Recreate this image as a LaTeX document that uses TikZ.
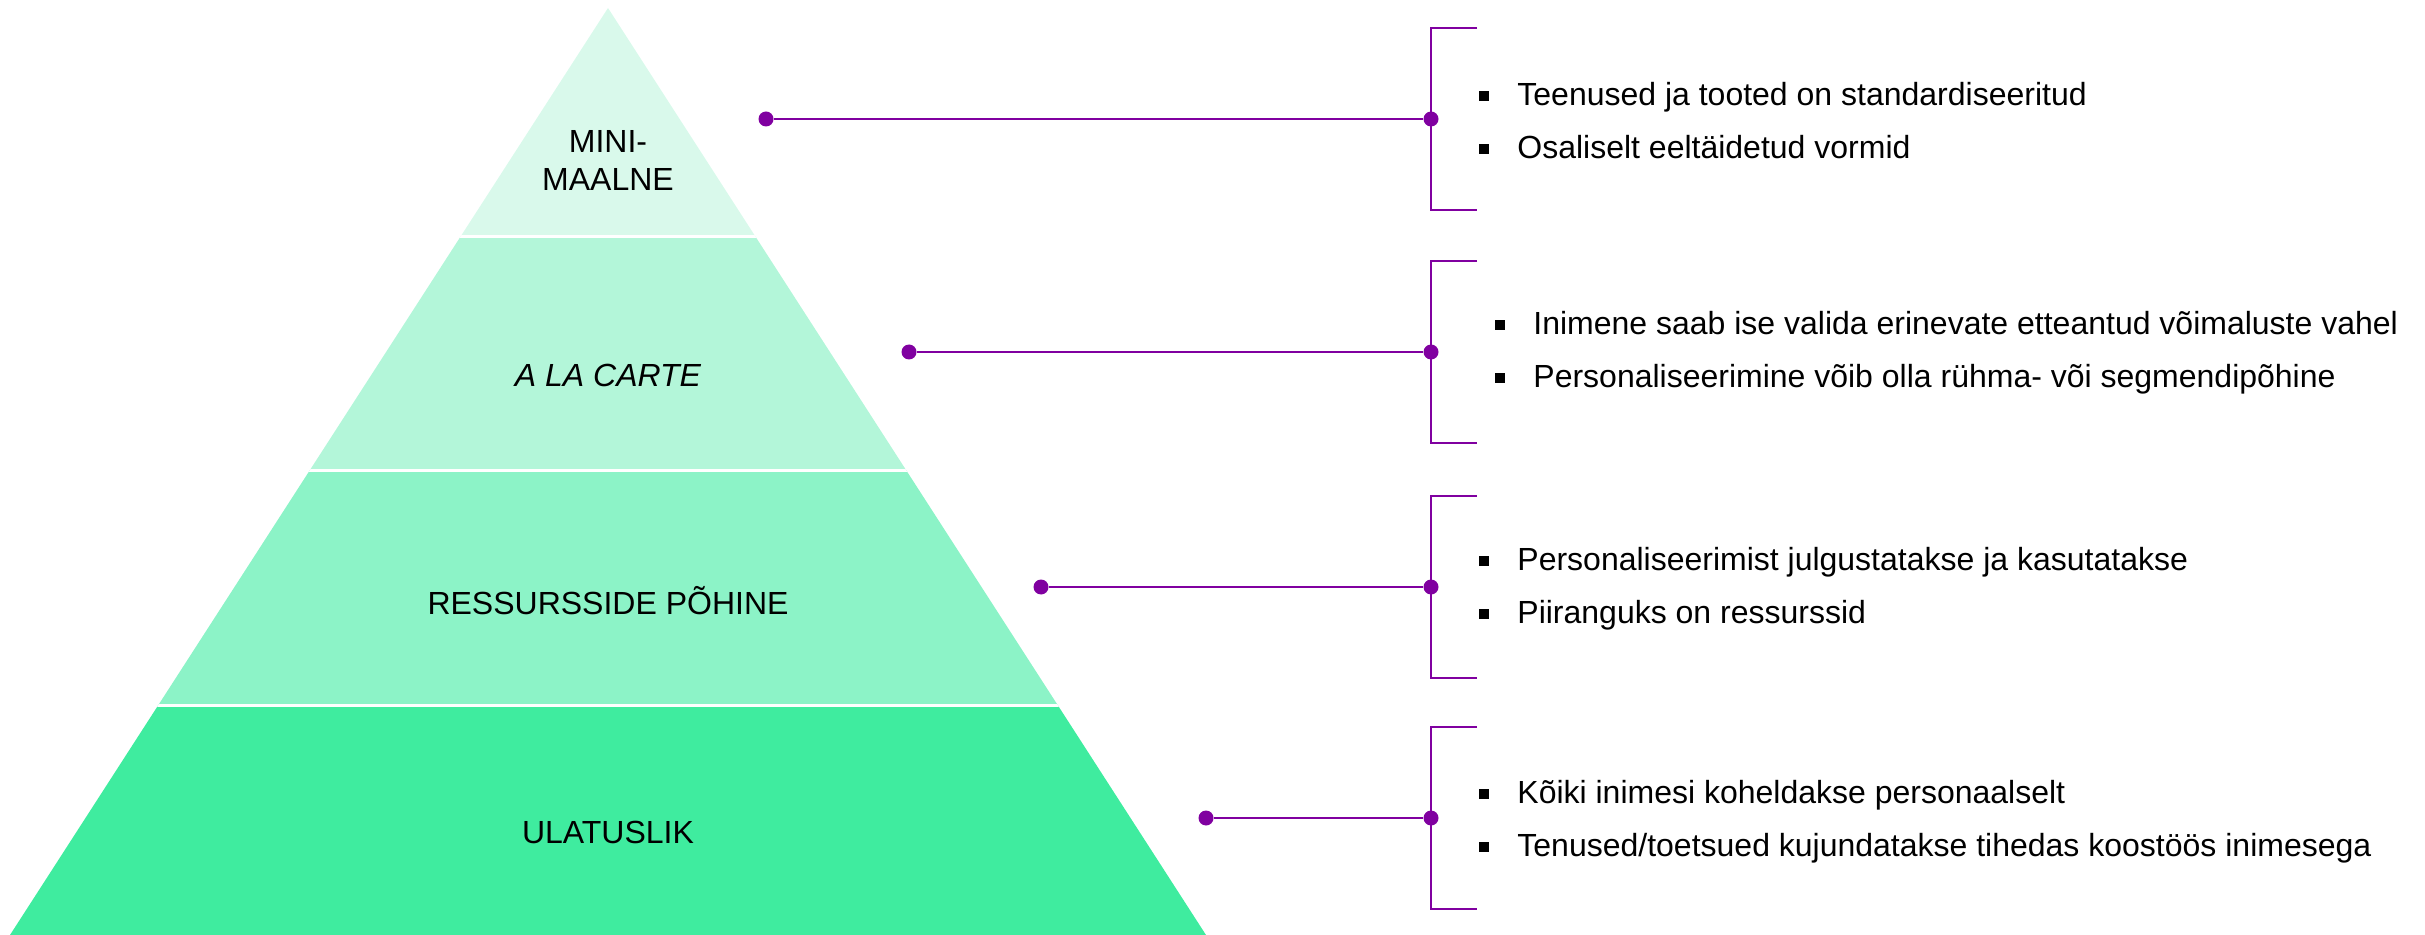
\documentclass[tikz,border=0pt]{standalone}
\usepackage{fontspec}
\setmainfont{Liberation Sans}

\definecolor{bandA}{RGB}{217,249,235}
\definecolor{bandB}{RGB}{179,246,217}
\definecolor{bandC}{RGB}{140,243,199}
\definecolor{bandD}{RGB}{63,236,159}
\definecolor{lilac}{RGB}{128,0,160}
\newcommand{\blt}{\makebox[19pt][l]{\rule[2.5pt]{5pt}{5pt}}}

\begin{document}
\begin{tikzpicture}[x=0.5pt,y=0.5pt,yscale=-1,xscale=1,
  lvl/.style={align=center,inner sep=0.75pt,font=\fontsize{16}{19}\selectfont},
  note/.style={anchor=west,align=left,inner sep=0pt,font=\fontsize{16}{26.5}\selectfont},
  dot/.style={circle,fill=lilac,inner sep=0pt,minimum size=7.5pt},
  link/.style={lilac,line width=1.2pt},
  brk/.style={lilac,line width=1pt}]
        \useasboundingbox (0,0) rectangle (2425,935);

        %Shape: Pyramid [id:pyr]
        \begin{scope}
        \clip (608,8) -- (10,935) -- (1206,935) -- cycle;
        \fill [bandA] (0,0) rectangle (1300,237);
        \fill [bandB] (0,237) rectangle (1300,470);
        \fill [bandC] (0,470) rectangle (1300,705);
        \fill [bandD] (0,705) rectangle (1300,935);
        %Straight Lines [id:gaps]
        \draw [white,line width=1.5pt] (0,237) -- (1300,237) (0,470) -- (1300,470) (0,705) -- (1300,705);
        \end{scope}

        % Text Node
        \node [lvl] (lvlA) at (608,160) {MINI-\\MAALNE};
        % Text Node
        \node [lvl] (lvlB) at (608,375) {\itshape A LA CARTE};
        % Text Node
        \node [lvl] (lvlC) at (608,601) {RESSURSSIDE PÕHINE};
        % Text Node
        \node [lvl] (lvlD) at (608,832) {ULATUSLIK};

        %Shape: Dots
        \node [dot] (pA) at (766,119) {};
        \node [dot] (bA) at (1431,119) {};
        \node [dot] (pB) at (909,352) {};
        \node [dot] (bB) at (1431,352) {};
        \node [dot] (pC) at (1041,587) {};
        \node [dot] (bC) at (1431,587) {};
        \node [dot] (pD) at (1206,818) {};
        \node [dot] (bD) at (1431,818) {};

        %Straight Lines
        \draw [link] (pA) -- (bA);
        \draw [link] (pB) -- (bB);
        \draw [link] (pC) -- (bC);
        \draw [link] (pD) -- (bD);

        %Shape: Brackets
        \draw [brk] (bA.center) ++(46,-91) -- ++(-46,0) -- ++(0,182) -- ++(46,0);
        \draw [brk] (bB.center) ++(46,-91) -- ++(-46,0) -- ++(0,182) -- ++(46,0);
        \draw [brk] (bC.center) ++(46,-91) -- ++(-46,0) -- ++(0,182) -- ++(46,0);
        \draw [brk] (bD.center) ++(46,-91) -- ++(-46,0) -- ++(0,182) -- ++(46,0);

        % Text Node
        \node [note] (nA) at (1479,121) {\blt Teenused ja tooted on standardiseeritud\\\blt Osaliselt eeltäidetud vormid};
        % Text Node
        \node [note] (nB) at (1495,353) {\blt Inimene saab ise valida erinevate etteantud võimaluste vahel\\\blt Personaliseerimine võib olla rühma- või segmendipõhine};
        % Text Node
        \node [note] (nC) at (1479,589) {\blt Personaliseerimist julgustatakse ja kasutatakse\\\blt Piiranguks on ressurssid};
        % Text Node
        \node [note] (nD) at (1479,822) {\blt Kõiki inimesi koheldakse personaalselt\\\blt Tenused/toetsued kujundatakse tihedas koostöös inimesega};

    \end{tikzpicture}
\end{document}
